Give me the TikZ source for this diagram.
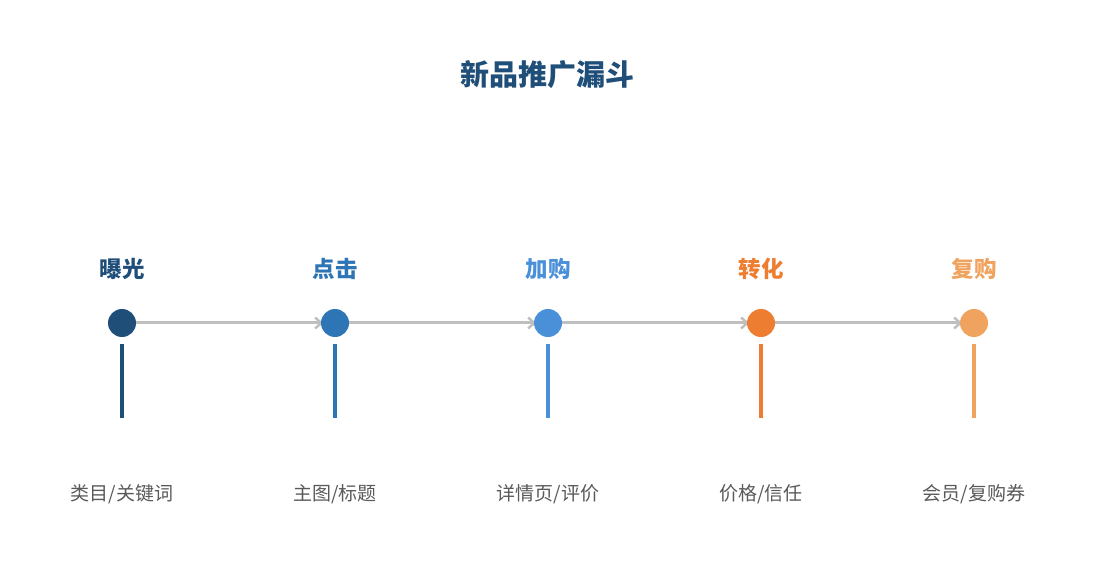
\documentclass[tikz,border=0pt]{standalone}
\usepackage{fontspec}
\setmainfont{Noto Sans CJK SC}
\newfontfamily\cjk{Noto Sans CJK SC}
\usetikzlibrary{arrows.meta}
\definecolor{cA}{HTML}{1F4E79}
\definecolor{cB}{HTML}{2E75B6}
\definecolor{cC}{HTML}{4A90D9}
\definecolor{cD}{HTML}{ED7D31}
\definecolor{cE}{HTML}{F0A35E}
\definecolor{lineg}{HTML}{BFBFBF}
\definecolor{txtg}{HTML}{595959}
\begin{document}
\begin{tikzpicture}[x=1pt,y=-1pt,
  dot/.style={circle,fill=#1,draw=none,minimum size=28pt,inner sep=0pt},
  steplabel/.style={text=#1,font=\cjk\bfseries\fontsize{22.5}{25}\selectfont,inner sep=0pt},
  desc/.style={text=txtg,font=\cjk\fontsize{19}{22}\selectfont,inner sep=0pt},
  stem/.style={draw=#1,line width=4pt},
  flow/.style={draw=lineg,line width=3pt,-{Straight Barb[length=6pt,width=11pt,line width=2.5pt]}}]
\useasboundingbox (0,0) rectangle (1095,585);
\node[text=cA,font=\cjk\bfseries\fontsize{29}{32}\selectfont,inner sep=0pt] (title) at (547,75) {新品推广漏斗};
\foreach \i/\x/\c/\lab/\d in {1/122/cA/曝光/{类目/关键词}, 2/335/cB/点击/{主图/标题}, 3/548/cC/加购/{详情页/评价}, 4/761/cD/转化/{价格/信任}, 5/974/cE/复购/{会员/复购券}}{
  \coordinate (top\i) at (\x,344);
  \coordinate (bot\i) at (\x,418);
  \node[steplabel=\c] (lab\i) at (\x,269) {\lab};
  \node[desc] (desc\i) at (\x,494) {\d};
}
\foreach \i/\x in {1/122,2/335,3/548,4/761,5/974}{
  \coordinate (c\i) at (\x,323);
}
\foreach \a/\b in {1/2,2/3,3/4,4/5}{
  \draw[flow] (c\a) -- ([xshift=-12pt]c\b);
}
\node[dot=cA] (d1) at (c1) {};
\node[dot=cB] (d2) at (c2) {};
\node[dot=cC] (d3) at (c3) {};
\node[dot=cD] (d4) at (c4) {};
\node[dot=cE] (d5) at (c5) {};
\draw[stem=cA] (top1) -- (bot1);
\draw[stem=cB] (top2) -- (bot2);
\draw[stem=cC] (top3) -- (bot3);
\draw[stem=cD] (top4) -- (bot4);
\draw[stem=cE] (top5) -- (bot5);
\end{tikzpicture}
\end{document}
